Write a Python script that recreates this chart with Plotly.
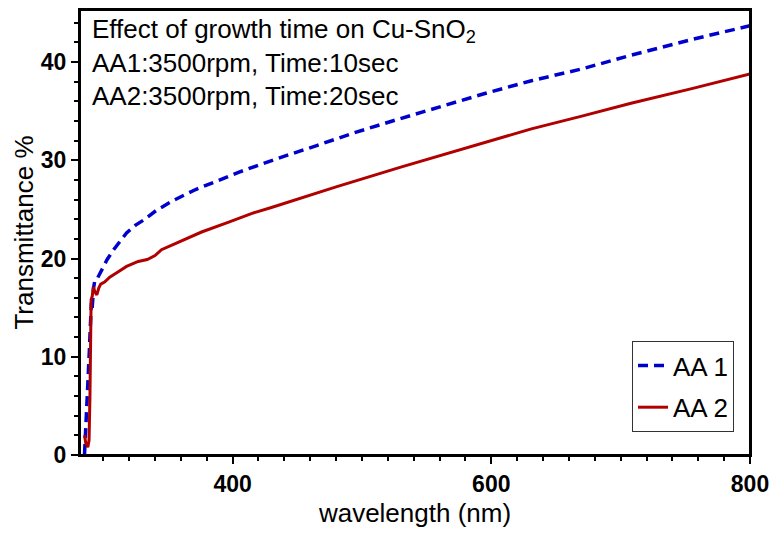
import plotly.graph_objects as go

# Data
wl_aa1 = [285.5, 286.5, 287.5, 288.5, 289.2, 289.8, 290.3, 290.8, 291.3, 291.8, 292.5, 293.5,
          295.5, 297.5, 300, 303, 308, 313, 318, 325, 331, 341, 354, 371, 389, 405, 420,
          435, 465, 494, 526, 559, 595, 631, 670, 708, 755, 800]
t_aa1 = [0.1, 2.5, 5.5, 8.5, 10.5, 12.5, 14.0, 15.5, 14.8, 16.0, 17.0, 17.8,
         18.0, 18.5, 19.2, 19.9, 20.9, 21.8, 22.6, 23.4, 23.9, 24.9, 25.9, 27.0, 28.0, 28.8, 29.5,
         30.2, 31.5, 32.8, 34.1, 35.4, 36.8, 38.1, 39.3, 40.7, 42.3, 43.7]

wl_aa2 = [285.5, 286.5, 288, 289, 289.7, 290.2, 290.6, 291.5, 292.3, 293.5, 295, 296.5,
          298, 301, 305, 311, 318, 327, 334, 340, 345, 357, 376, 397, 415, 430, 480,
          530, 580, 615, 631, 670, 708, 755, 800]
t_aa2 = [2.0, 1.2, 0.8, 1.5, 6.0, 12.0, 15.8, 16.2, 17.1, 16.6, 16.3, 17.0,
         17.4, 17.6, 18.1, 18.6, 19.2, 19.7, 19.9, 20.3, 20.9, 21.6, 22.7, 23.7, 24.6, 25.2, 27.3,
         29.3, 31.2, 32.6, 33.2, 34.5, 35.8, 37.3, 38.8]

series_names = ["AA 1", "AA 2"]
x_ticks = [400, 600, 800]
y_ticks = [0, 10, 20, 30, 40]
note_lines = ["Effect of growth time on Cu-SnO<sub>2</sub>",
              "AA1:3500rpm, Time:10sec",
              "AA2:3500rpm, Time:20sec"]

FONT = "Arial, Liberation Sans, sans-serif"

PL, PR, PT, PB = 80, 750, 10, 455  # plot area in page pixels

fig = go.Figure()
fig.add_trace(go.Scatter(x=wl_aa1, y=t_aa1, mode="lines", name=series_names[0],
                         legendgroup="g1",
                         line=dict(color="#0000CC", width=3.5, dash="10px,6px")))
fig.add_trace(go.Scatter(x=wl_aa2, y=t_aa2, mode="lines", name=series_names[1],
                         legendgroup="g2",
                         line=dict(color="#B00000", width=3)))

axis_common = dict(showgrid=False, zeroline=False, showline=True, linecolor="black",
                   linewidth=2, mirror=True, ticks="outside", ticklen=7, tickwidth=1.5,
                   tickcolor="black",
                   tickfont=dict(family=FONT, size=23, color="black", weight="bold"))

fig.update_xaxes(range=[282, 800], tickvals=x_ticks,
                 minor=dict(dtick=20, ticks="outside", ticklen=4, tickwidth=1.5, tickcolor="black"),
                 title=dict(text="wavelength (nm)", font=dict(family=FONT, size=26, color="black"),
                            standoff=8),
                 **axis_common)
fig.update_yaxes(range=[0, 45.3], tickvals=y_ticks,
                 minor=dict(dtick=2, ticks="outside", ticklen=4, tickwidth=1.5, tickcolor="black"),
                 title=dict(text="Transmittance %", font=dict(family=FONT, size=26, color="black"),
                            standoff=0),
                 **axis_common)

# plot frame
fig.add_shape(type="rect", xref="paper", yref="paper", x0=0, x1=1, y0=0, y1=1,
              line=dict(color="black", width=2), layer="above")

W = PR - PL
H = PB - PT
ys = [30, 63, 96]
for txt, py in zip(note_lines, ys):
    fig.add_annotation(text=txt, xref="paper", yref="paper", x=(90 - PL) / W,
                       y=(PB - py) / H, xanchor="left", yanchor="middle", showarrow=False,
                       font=dict(family=FONT, size=26, color="black"))

fig.update_layout(
    width=773, height=536,
    margin=dict(l=PL, r=773 - PR, t=PT, b=536 - PB, autoexpand=False),
    paper_bgcolor="white", plot_bgcolor="white",
    showlegend=True,
    legend=dict(x=(632 - PL) / W, y=(PB - 341) / H, xanchor="left", yanchor="top",
                bgcolor="white", bordercolor="#333333", borderwidth=1, tracegroupgap=5,
                font=dict(family=FONT, size=26, color="black"), itemwidth=30),
)

fig.write_html("out.html", config={"displayModeBar": False},
               post_script="document.body.style.margin='0';document.body.style.overflow='hidden';")
